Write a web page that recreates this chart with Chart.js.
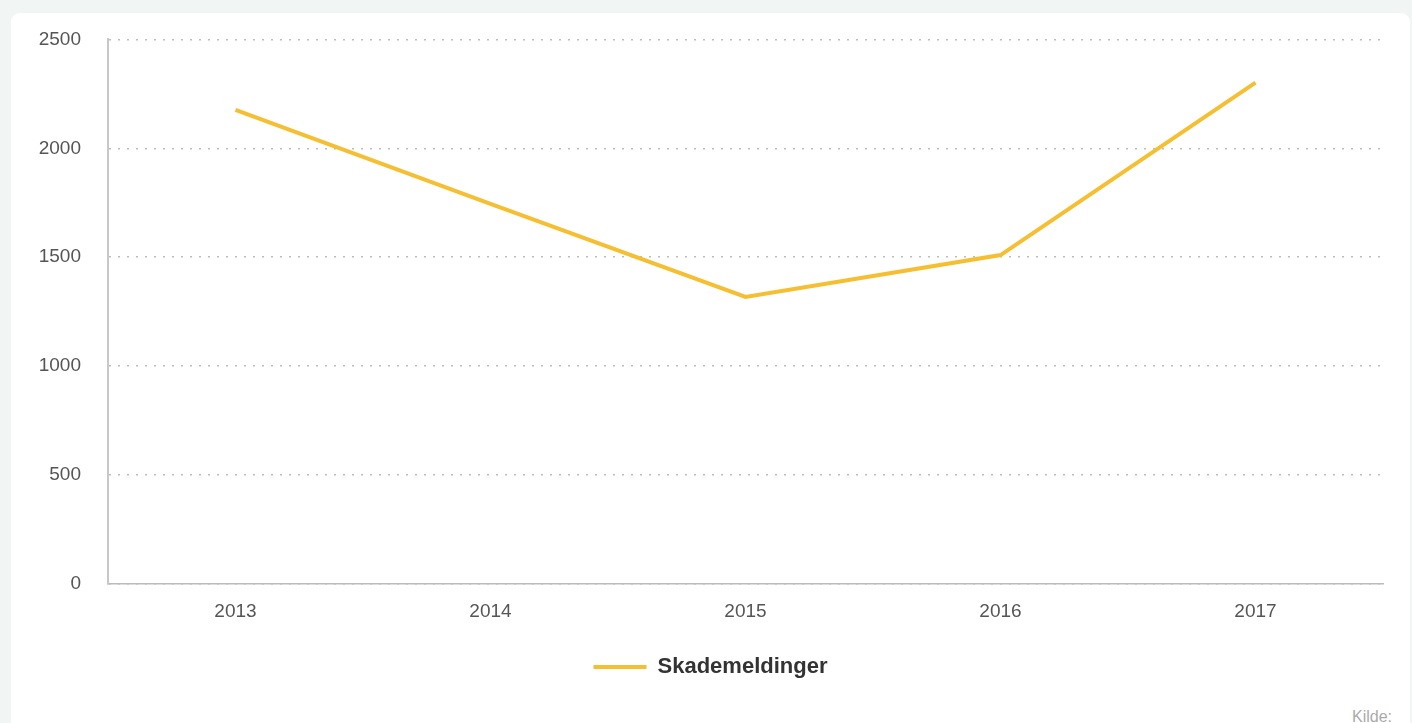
<!DOCTYPE html>
<html>
<head>
<meta charset="utf-8">
<script src="https://cdn.jsdelivr.net/npm/chart.js@4/dist/chart.umd.min.js"></script>
<style>
    body {
        margin: 0;
        background: #f1f5f4;
        width: 1412px;
        height: 723px;
        overflow: hidden;
        font-family: "Liberation Sans", Arial, sans-serif;
    }
    .card {
        position: absolute;
        left: 11px;
        top: 13px;
        width: 1399px;
        height: 730px;
        background: #fff;
        border-radius: 9px;
    }
    .chart-box {
        position: absolute;
        left: 0;
        top: -12px;
        width: 1399px;
        height: 687px;
    }
    .kilde {
        position: absolute;
        left: 1341px;
        top: 695px;
        font-size: 16px;
        color: #aaa;
    }
</style>
</head>
<body>
<div class="card">
    <div class="chart-box"><canvas id="chart"></canvas></div>
    <div class="kilde">Kilde:</div>
</div>

<script>
// data
const years = ['2013', '2014', '2015', '2016', '2017'];
const skademeldinger = [2177, 1745, 1318, 1510, 2302];
const yTicks = [0, 500, 1000, 1500, 2000, 2500];

const yellow = '#f6bf32';
const tickFont = { family: '"Liberation Sans", Arial, sans-serif', size: 19 };

const ctx = document.querySelector('#chart').getContext('2d');

new Chart(ctx, {
    type: 'line',
    data: {
        labels: years,
        datasets: [
            {
                label: 'Skademeldinger',
                data: skademeldinger,
                borderColor: yellow,
                backgroundColor: yellow,
                borderWidth: 4,
                tension: 0,
                pointRadius: 0,
                pointHoverRadius: 0
            }
        ]
    },
    options: {
        responsive: true,
        maintainAspectRatio: false,
        animation: false,
        layout: {
            // equal side padding keeps the legend centred on the card
            padding: { top: 15, right: 27, left: 27, bottom: 0 }
        },
        scales: {
            x: {
                offset: true,
                grid: { display: false, drawTicks: false },
                border: { color: '#bbb', width: 1.5 },
                ticks: { color: '#555', font: tickFont, padding: 16 },
                afterFit: (scale) => { scale.height = 62; }
            },
            y: {
                min: 0,
                max: 2500,
                afterBuildTicks: (scale) => {
                    scale.ticks = yTicks.map(v => ({ value: v }));
                },
                grid: { color: '#bdbdbd', lineWidth: 1.5, drawTicks: false },
                border: { color: '#c8c8c8', width: 2, dash: [2, 7] },
                ticks: {
                    color: '#555',
                    font: tickFont,
                    padding: 27,
                    callback: (value) => String(value)
                },
                afterFit: (scale) => { scale.width = 70; }
            }
        },
        plugins: {
            legend: {
                position: 'bottom',
                labels: {
                    usePointStyle: true,
                    pointStyle: 'line',
                    pointStyleWidth: 53,
                    color: '#333',
                    padding: 10,
                    font: { family: '"Liberation Sans", Arial, sans-serif', size: 22, weight: 'bold' }
                }
            },
            tooltip: { enabled: false }
        }
    }
});
</script>
</body>
</html>
